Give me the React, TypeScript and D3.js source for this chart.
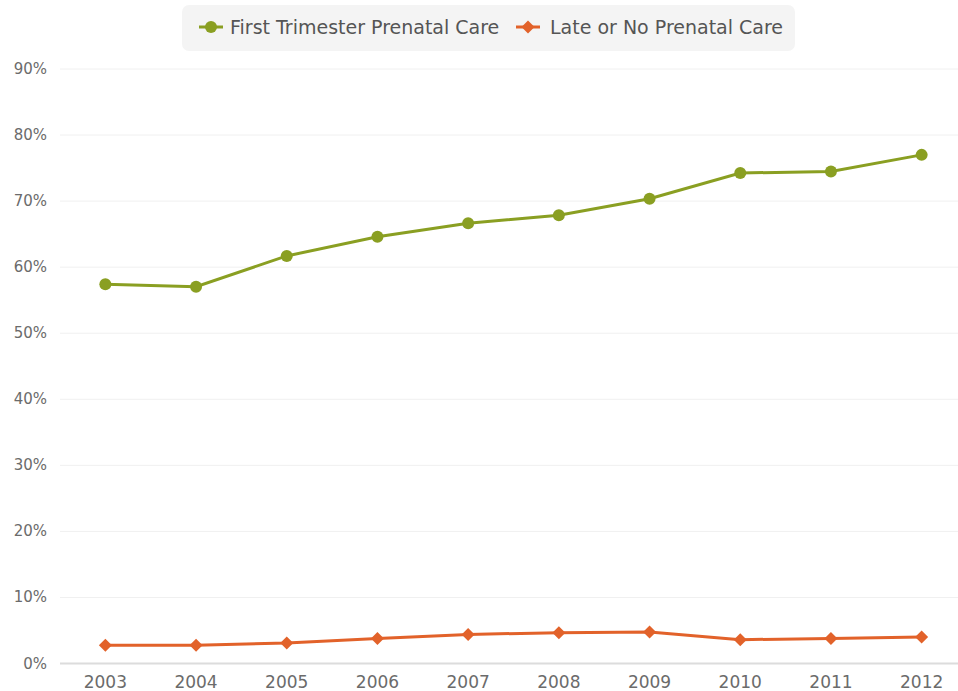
import React from "react";
import * as d3 from "d3";

const years = ["2003", "2004", "2005", "2006", "2007", "2008", "2009", "2010", "2011", "2012"];
const firstTrimester = [57.4, 57.05, 61.7, 64.6, 66.65, 67.85, 70.35, 74.25, 74.5, 77.0];
const lateOrNone = [2.76, 2.76, 3.1, 3.77, 4.4, 4.67, 4.77, 3.6, 3.8, 4.0];
const yTicks = [0, 10, 20, 30, 40, 50, 60, 70, 80, 90];
const seriesNames = ["First Trimester Prenatal Care", "Late or No Prenatal Care"];

const W = 958;
const H = 691;
const GREEN = "#8a9f22";
const ORANGE = "#e2622a";
const FONT = "'DejaVu Sans', sans-serif";

export default function App() {
  const x = d3.scalePoint<string>().domain(years).range([60, 967]).padding(0.5);
  const y = d3.scaleLinear().domain([0, 90]).range([663.5, 69]);
  const line = d3
    .line<number>()
    .x((_, i) => x(years[i]) as number)
    .y((d) => y(d));
  const diamond = (cx: number, cy: number, r: number) =>
    `M${cx},${cy - r}L${cx + r},${cy}L${cx},${cy + r}L${cx - r},${cy}Z`;

  return (
    <svg
      width={W}
      height={H}
      style={{ position: "absolute", left: 0, top: 0, background: "#fff" }}
      fontFamily={FONT}
    >
      {/* grid */}
      {yTicks.map((t) => (
        <g key={t}>
          <line
            x1={60}
            x2={W}
            y1={y(t)}
            y2={y(t)}
            stroke={t === 0 ? "#dcdcdc" : "#f0f0f0"}
            strokeWidth={t === 0 ? 2 : 1}
          />
          <text x={47} y={y(t) + 5} textAnchor="end" fontSize={15} fill="#6b6b6b">
            {t}%
          </text>
        </g>
      ))}
      {/* x labels */}
      {years.map((yr) => (
        <text key={yr} x={x(yr)} y={688} textAnchor="middle" fontSize={17} fill="#6b6b6b">
          {yr}
        </text>
      ))}
      {/* series */}
      <path d={line(firstTrimester) || ""} fill="none" stroke={GREEN} strokeWidth={3} />
      {firstTrimester.map((v, i) => (
        <circle key={i} cx={x(years[i])} cy={y(v)} r={6} fill={GREEN} />
      ))}
      <path d={line(lateOrNone) || ""} fill="none" stroke={ORANGE} strokeWidth={3} />
      {lateOrNone.map((v, i) => (
        <path key={i} d={diamond(x(years[i]) as number, y(v), 6.5)} fill={ORANGE} />
      ))}
      {/* legend */}
      <rect x={182} y={5} width={613} height={46} rx={7} fill="#f4f4f4" />
      <line x1={199} x2={223} y1={27} y2={27} stroke={GREEN} strokeWidth={3} />
      <circle cx={211} cy={27} r={6} fill={GREEN} />
      <text x={230} y={34} fontSize={19} fill="#555">
        {seriesNames[0]}
      </text>
      <line x1={516} x2={540} y1={27} y2={27} stroke={ORANGE} strokeWidth={3} />
      <path d={diamond(528, 27, 6.5)} fill={ORANGE} />
      <text x={550} y={34} fontSize={19} fill="#555">
        {seriesNames[1]}
      </text>
    </svg>
  );
}
